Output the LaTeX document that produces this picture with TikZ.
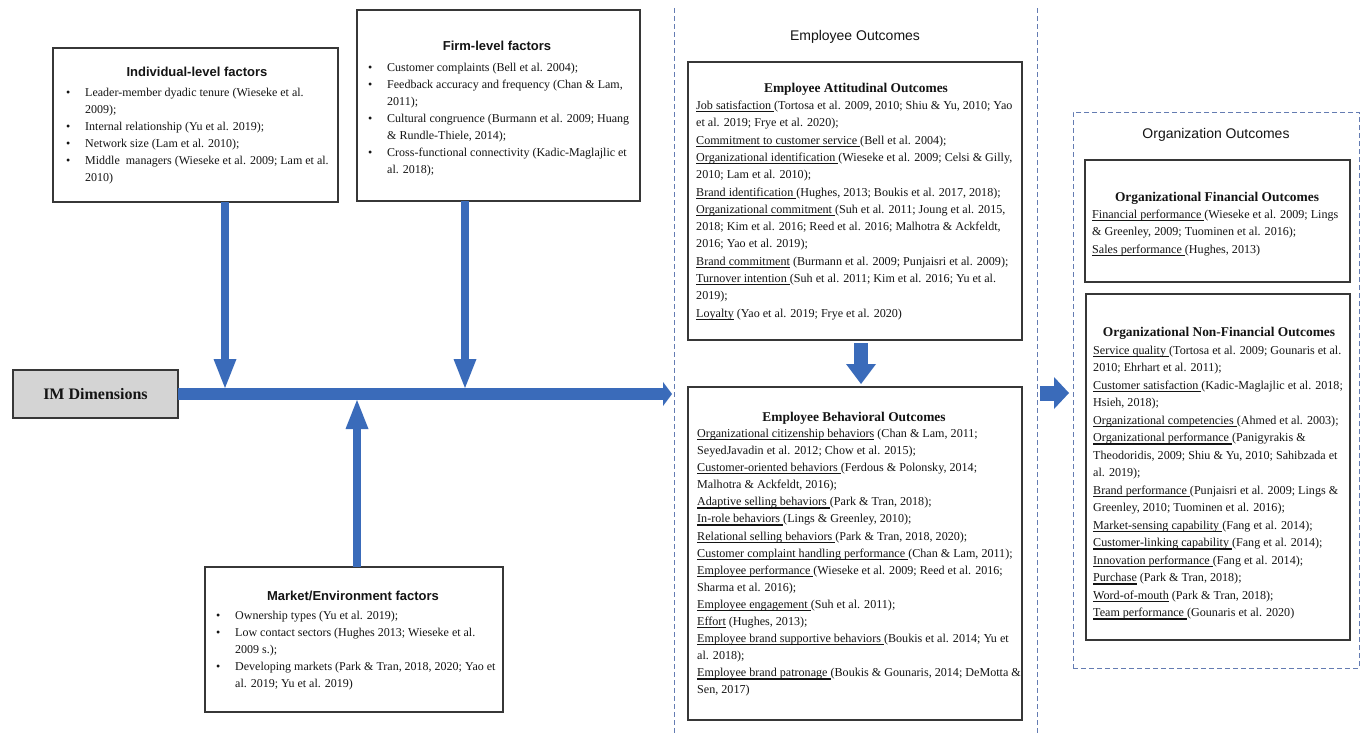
\documentclass[tikz,border=0pt]{standalone}
\usepackage{fontspec}
\setmainfont{Liberation Serif}
\newfontfamily\sansfam{Liberation Sans}
\usetikzlibrary{arrows.meta}

\definecolor{arrowblue}{RGB}{58,107,186}
\definecolor{dashblue}{RGB}{100,124,178}
\definecolor{frameline}{RGB}{55,55,55}
\definecolor{imgray}{RGB}{212,212,212}
\definecolor{inkk}{RGB}{20,20,20}

% underlined construct name, rule drawn under the whole box (trailing space included)
\newcommand{\ulk}[1]{\setbox0=\hbox{#1}\rlap{\rule[-2.7pt]{\wd0}{1.15pt}}\box0\relax}
% bullet and hanging indent for factor lists
\newcommand{\bitem}{\makebox[19pt][l]{\textbullet}}
\newcommand{\hangin}{\makebox[19pt]{}}

\begin{document}
\begin{tikzpicture}[x=1pt,y=-1pt,
  frame/.style={draw=frameline, line width=1.1pt, fill=white, anchor=north west, inner sep=0pt, outer sep=0pt},
  fhead/.style={font=\sansfam\bfseries\fontsize{13}{15}\selectfont, text=inkk, anchor=base, inner sep=0pt},
  fbody/.style={font=\fontsize{12}{17}\selectfont, text=inkk, align=left, anchor=north west, inner sep=0pt},
  ohead/.style={font=\bfseries\fontsize{13.4}{16}\selectfont, text=inkk, anchor=base, inner sep=0pt},
  obody/.style={font=\fontsize{12.1}{17.3}\selectfont, text=inkk, align=left, anchor=north west, inner sep=0pt},
  ghead/.style={font=\sansfam\fontsize{14}{16}\selectfont, text=inkk, anchor=base, inner sep=0pt},
  dashline/.style={draw=dashblue, line width=0.8pt, dash pattern=on 5pt off 3pt},
  bar/.style={draw=arrowblue, line width=12pt, -{Triangle[width=24pt,length=9pt,line width=0pt]}},
  varrow/.style={draw=arrowblue, line width=8.5pt, -{Triangle[width=23pt,length=29pt,line width=0pt]}},
  blockdown/.style={draw=arrowblue, line width=14pt, -{Triangle[width=30pt,length=20pt,line width=0pt]}},
  blockright/.style={draw=arrowblue, line width=15pt, -{Triangle[width=32pt,length=15pt,line width=0pt]}}
]
\useasboundingbox (0,0) rectangle (1363,734);
\fill[white] (0,0) rectangle (1363,734);

% ---------- group frames ----------
\coordinate (empTopL) at (674,8);
\coordinate (empBotL) at (674,734);
\coordinate (empTopR) at (1037,8);
\coordinate (empBotR) at (1037,734);
\draw[dashline] (empTopL) -- (empBotL);
\draw[dashline] (empTopR) -- (empBotR);
\node[dashline, anchor=north west, minimum width=286, minimum height=556, inner sep=0pt, outer sep=0pt] (org) at (1073,112) {};

\node[ghead] (empT) at (855,40) {Employee Outcomes};
\node[ghead] (orgT) at (1216,138) {Organization Outcomes};

% ---------- antecedent boxes ----------
\node[frame, minimum width=285, minimum height=154] (indiv) at (53,48) {};
\node[fhead] (indivT) at (197,76.5) {Individual-level factors};
\node[fbody] (indivB) at (66,87.8) {\bitem Leader-member dyadic tenure (Wieseke et al.\\\hangin 2009);\\\bitem Internal relationship (Yu et al. 2019);\\\bitem Network size (Lam et al. 2010);\\\bitem Middle\ \ managers (Wieseke et al. 2009; Lam et al.\\\hangin 2010)};

\node[frame, minimum width=283, minimum height=191] (firm) at (357,10) {};
\node[fhead] (firmT) at (497,50) {Firm-level factors};
\node[fbody] (firmB) at (368,62.8) {\bitem Customer complaints (Bell et al. 2004);\\\bitem Feedback accuracy and frequency (Chan \& Lam,\\\hangin 2011);\\\bitem Cultural congruence (Burmann et al. 2009; Huang\\\hangin \& Rundle-Thiele, 2014);\\\bitem Cross-functional connectivity (Kadic-Maglajlic et\\\hangin al. 2018);};

\node[frame, minimum width=298, minimum height=145] (mkt) at (205,567) {};
\node[fhead] (mktT) at (353,600) {Market/Environment factors};
\node[fbody] (mktB) at (216,610.8) {\bitem Ownership types (Yu et al. 2019);\\\bitem Low contact sectors (Hughes 2013; Wieseke et al.\\\hangin 2009 s.);\\\bitem Developing markets (Park \& Tran, 2018, 2020; Yao et\\\hangin al. 2019; Yu et al. 2019)};

\node[frame, fill=imgray, line width=1.4pt, minimum width=165, minimum height=48,
      font=\bfseries\fontsize{16}{18}\selectfont, text=inkk] (im) at (13,370) {IM Dimensions};

% ---------- main flow ----------
\coordinate (barE) at (672,394);
\coordinate (barTop) at (672,388);
\coordinate (barBot) at (672,400);
\draw[bar] (im.east) -- (barE);

\coordinate (dn1) at ([xshift=172pt]indiv.south west);
\coordinate (dn2) at ([xshift=108pt]firm.south west);
\coordinate (up1) at ([xshift=152pt]mkt.north west);
\draw[varrow] (dn1) -- (dn1 |- barTop);
\draw[varrow] (dn2) -- (dn2 |- barTop);
\draw[varrow] (up1) -- (up1 |- barBot);

% ---------- employee outcomes ----------
\node[frame, minimum width=334, minimum height=278] (att) at (688,62) {};
\node[ohead] (attT) at (856,92.4) {Employee Attitudinal Outcomes};
\node[obody] (attB) at (696,100.8) {\ulk{Job satisfaction }(Tortosa et al. 2009, 2010; Shiu \& Yu, 2010; Yao\\et al. 2019; Frye et al. 2020);\\\ulk{Commitment to customer service }(Bell et al. 2004);\\\ulk{Organizational identification }(Wieseke et al. 2009; Celsi \& Gilly,\\2010; Lam et al. 2010);\\\ulk{Brand identification }(Hughes, 2013; Boukis et al. 2017, 2018);\\\ulk{Organizational commitment }(Suh et al. 2011; Joung et al. 2015,\\2018; Kim et al. 2016; Reed et al. 2016; Malhotra \& Ackfeldt,\\2016; Yao et al. 2019);\\\ulk{Brand commitment} (Burmann et al. 2009; Punjaisri et al. 2009);\\\ulk{Turnover intention }(Suh et al. 2011; Kim et al. 2016; Yu et al.\\2019);\\\ulk{Loyalty} (Yao et al. 2019; Frye et al. 2020)};

\node[frame, minimum width=334, minimum height=333] (beh) at (688,387) {};
\node[ohead] (behT) at (854,421.4) {Employee Behavioral Outcomes};
\node[obody, font=\fontsize{12.1}{17.1}\selectfont] (behB) at (697,428.8) {\ulk{Organizational citizenship behaviors} (Chan \& Lam, 2011;\\SeyedJavadin et al. 2012; Chow et al. 2015);\\\ulk{Customer-oriented behaviors }(Ferdous \& Polonsky, 2014;\\Malhotra \& Ackfeldt, 2016);\\\ulk{Adaptive selling behaviors }(Park \& Tran, 2018);\\\ulk{In-role behaviors }(Lings \& Greenley, 2010);\\\ulk{Relational selling behaviors }(Park \& Tran, 2018, 2020);\\\ulk{Customer complaint handling performance }(Chan \& Lam, 2011);\\\ulk{Employee performance }(Wieseke et al. 2009; Reed et al. 2016;\\Sharma et al. 2016);\\\ulk{Employee engagement }(Suh et al. 2011);\\\ulk{Effort} (Hughes, 2013);\\\ulk{Employee brand supportive behaviors }(Boukis et al. 2014; Yu et\\al. 2018);\\\ulk{Employee brand patronage }(Boukis \& Gounaris, 2014; DeMotta \&\\Sen, 2017)};

\draw[blockdown, shorten <=3pt, shorten >=3pt] ([xshift=6pt]att.south) -- ([xshift=6pt]beh.north);

% ---------- organization outcomes ----------
\node[frame, minimum width=265, minimum height=122] (fin) at (1085,160) {};
\node[ohead] (finT) at (1217,201.4) {Organizational Financial Outcomes};
\node[obody, font=\fontsize{12.1}{17.5}\selectfont] (finB) at (1092,209.5) {\ulk{Financial performance }(Wieseke et al. 2009; Lings\\\& Greenley, 2009; Tuominen et al. 2016);\\\ulk{Sales performance }(Hughes, 2013)};

\node[frame, minimum width=264, minimum height=346] (nfin) at (1086,294) {};
\node[ohead] (nfinT) at (1219,336.4) {Organizational Non-Financial Outcomes};
\node[obody, font=\fontsize{12.1}{17.5}\selectfont] (nfinB) at (1093,345.8) {\ulk{Service quality }(Tortosa et al. 2009; Gounaris et al.\\2010; Ehrhart et al. 2011);\\\ulk{Customer satisfaction }(Kadic-Maglajlic et al. 2018;\\Hsieh, 2018);\\\ulk{Organizational competencies }(Ahmed et al. 2003);\\\ulk{Organizational performance }(Panigyrakis \&\\Theodoridis, 2009; Shiu \& Yu, 2010; Sahibzada et\\al. 2019);\\\ulk{Brand performance }(Punjaisri et al. 2009; Lings \&\\Greenley, 2010; Tuominen et al. 2016);\\\ulk{Market-sensing capability }(Fang et al. 2014);\\\ulk{Customer-linking capability }(Fang et al. 2014);\\\ulk{Innovation performance }(Fang et al. 2014);\\\ulk{Purchase} (Park \& Tran, 2018);\\\ulk{Word-of-mouth} (Park \& Tran, 2018);\\\ulk{Team performance }(Gounaris et al. 2020)};

% ---------- employee -> organization ----------
\coordinate (orgIn) at (1040,393);
\draw[blockright, shorten >=4pt] (orgIn) -- (orgIn -| org.west);
\end{tikzpicture}
\end{document}
